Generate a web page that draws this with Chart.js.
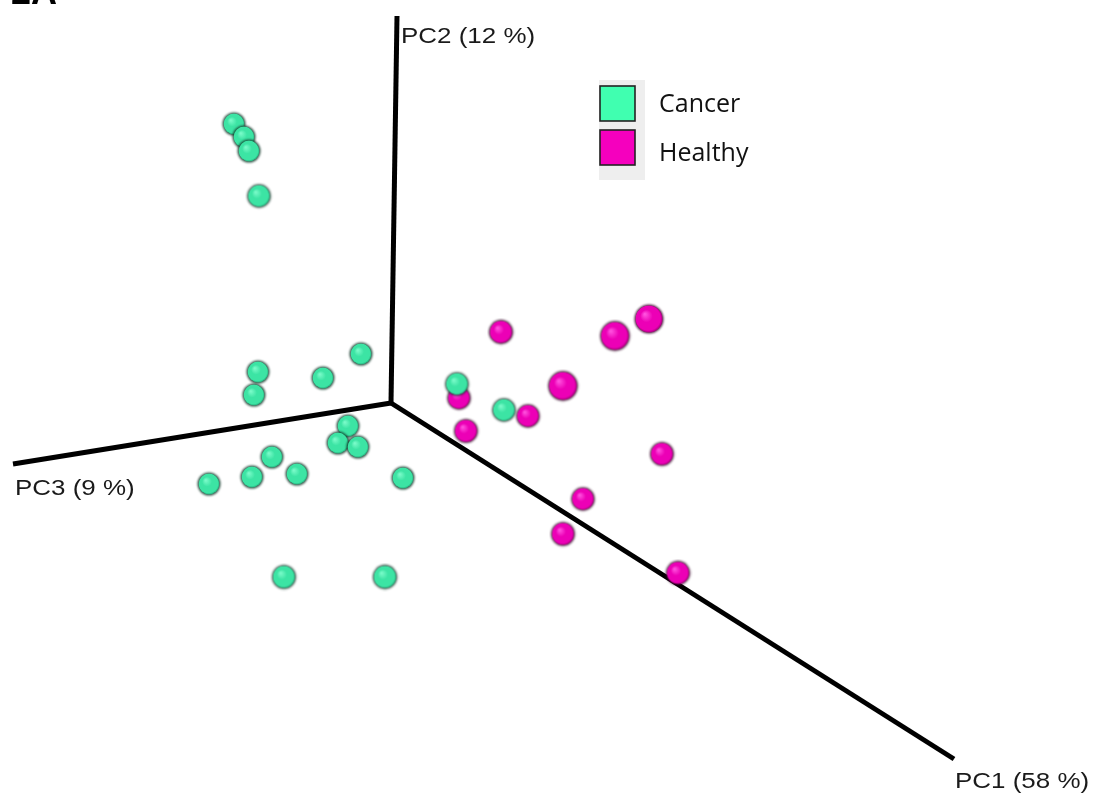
<!DOCTYPE html>
<html>
<head>
<meta charset="utf-8">
<script src="https://cdn.jsdelivr.net/npm/chart.js@4.4.1/dist/chart.umd.min.js"></script>
<style>
  html, body { margin: 0; padding: 0; background: #ffffff; }
  #wrap { width: 1094px; height: 801px; position: relative; }
</style>
</head>
<body>
<div id="wrap"><canvas id="pca" width="1094" height="801"></canvas></div>
<script>
// Projected PCA scores (view-plane coordinates) and depth toward the viewer
const cancerX = [234, 244, 249, 259, 361, 258, 254, 323, 457, 504, 348, 338, 358, 272, 252, 297, 209, 403, 284, 385];
const cancerY = [124, 137, 151, 196, 354, 372, 395, 378, 384, 410, 426, 443, 447, 457, 477, 474, 484, 478, 577, 577];
const cancerDepth = [0, 0, 0, 0.1, 0, 0, 0, 0, 0.1, 0.1, 0, 0, 0, 0, 0, 0, 0, 0, 0.15, 0.2];

const healthyX = [501, 615, 649, 563, 459, 528, 466, 662, 583, 563, 678];
const healthyY = [332, 336, 319, 386, 398, 416, 431, 454, 499, 534, 573];
const healthyDepth = [0.2, 1.0, 0.9, 1.0, 0.1, 0.1, 0.15, 0.15, 0.1, 0.15, 0.2];

// Principal component axes: shared origin and projected end points
const axisNames = ['PC1 (58 %)', 'PC2 (12 %)', 'PC3 (9 %)'];
const axisOrigin = { x: 391, y: 403 };
const axisEndX = [954, 397, 13];
const axisEndY = [759, 16, 464];

const groupNames = ['Cancer', 'Healthy'];

// ---- sphere sprites -------------------------------------------------------
const sphereCache = {};
function sphereSprite(r, tone) {
  const key = tone + ':' + r.toFixed(1);
  if (sphereCache[key]) return sphereCache[key];
  const pad = 3;
  const size = Math.ceil(2 * r + 2 * pad);
  const c = document.createElement('canvas');
  c.width = size; c.height = size;
  const g = c.getContext('2d');
  const cx = size / 2, cy = size / 2;
  const pal = tone === 'cancer'
    ? { hi: 'rgb(120,250,200)', mid: 'rgb(60,228,164)', lo: 'rgb(25,150,105)', rim: 'rgba(15,55,40,0.85)' }
    : { hi: 'rgb(255,80,222)', mid: 'rgb(236,0,182)', lo: 'rgb(140,0,100)', rim: 'rgba(55,0,40,0.85)' };
  // soft dark rim
  g.beginPath();
  g.arc(cx, cy, r + 0.7, 0, Math.PI * 2);
  g.fillStyle = pal.rim;
  g.filter = 'blur(0.8px)';
  g.fill();
  g.filter = 'none';
  const grad = g.createRadialGradient(cx - r * 0.3, cy - r * 0.35, r * 0.05, cx, cy, r * 1.05);
  grad.addColorStop(0, pal.hi);
  grad.addColorStop(0.4, pal.mid);
  grad.addColorStop(0.82, pal.mid);
  grad.addColorStop(1, pal.lo);
  g.beginPath();
  g.arc(cx, cy, r - 0.4, 0, Math.PI * 2);
  g.fillStyle = grad;
  g.fill();
  sphereCache[key] = c;
  return c;
}

const radiusOf = d => 10.8 + 3.4 * d;

function pts(xs, ys) { return xs.map((x, i) => ({ x: x, y: ys[i] })); }

const axisDatasets = axisNames.map((name, i) => ({
  type: 'line',
  label: name,
  data: [{ x: axisOrigin.x, y: axisOrigin.y }, { x: axisEndX[i], y: axisEndY[i] }],
  borderColor: '#000000',
  borderWidth: 5,
  pointRadius: 0,
  fill: false,
  order: 10
}));

// ---- text overlays: axis titles, panel tag, legend -----------------------
const overlayPlugin = {
  id: 'overlay',
  afterDatasetsDraw(chart) {
    const ctx = chart.ctx;
    const sx = chart.scales.x, sy = chart.scales.y;
    ctx.save();
    // axis titles, placed just beyond each axis end
    const offs = [[1, 29], [4, 27], [2, 31]];
    ctx.fillStyle = '#1a1a1a';
    ctx.textBaseline = 'alphabetic';
    ctx.font = '22px "Liberation Sans", Arial, sans-serif';
    axisNames.forEach((name, i) => {
      const px = sx.getPixelForValue(axisEndX[i]) + offs[i][0];
      const py = sy.getPixelForValue(axisEndY[i]) + offs[i][1];
      ctx.save();
      ctx.translate(px, py);
      ctx.scale(1.18, 1);
      ctx.fillText(name, 0, 0);
      ctx.restore();
    });
    // panel tag, mostly above the top edge
    ctx.fillStyle = '#000000';
    ctx.font = 'bold 36px "Liberation Sans", Arial, sans-serif';
    ctx.fillText('2A', 11, 4);

    // legend
    const lx = 599, ly = 80;
    ctx.fillStyle = '#eeeeee';
    ctx.fillRect(lx, ly, 46, 100);
    const sw = [['rgb(64,255,176)', 86], ['rgb(245,0,190)', 130]];
    sw.forEach(([col, top]) => {
      ctx.fillStyle = col;
      ctx.fillRect(lx + 1, top, 35, 35);
      ctx.strokeStyle = '#222222';
      ctx.lineWidth = 1.6;
      ctx.strokeRect(lx + 1, top, 35, 35);
    });
    ctx.fillStyle = '#111111';
    ctx.font = '25px "Open Sans", sans-serif';
    ctx.fillText(groupNames[0], 659, 112);
    ctx.fillText(groupNames[1], 659, 161);
    ctx.restore();
  }
};

new Chart(document.getElementById('pca'), {
  type: 'scatter',
  data: {
    datasets: [
      ...axisDatasets,
      {
        label: groupNames[1],
        data: pts(healthyX, healthyY),
        pointStyle: ctx => sphereSprite(radiusOf(healthyDepth[ctx.dataIndex] || 0), 'healthy'),
        order: 2
      },
      {
        label: groupNames[0],
        data: pts(cancerX, cancerY),
        pointStyle: ctx => sphereSprite(radiusOf(cancerDepth[ctx.dataIndex] || 0), 'cancer'),
        order: 1
      }
    ]
  },
  options: {
    responsive: false,
    animation: false,
    devicePixelRatio: 1,
    layout: { padding: 0, autoPadding: false },
    plugins: { legend: { display: false }, tooltip: { enabled: false } },
    scales: {
      x: { type: 'linear', min: 0, max: 1094, display: false },
      y: { type: 'linear', min: 0, max: 801, reverse: true, display: false }
    }
  },
  plugins: [overlayPlugin]
});
</script>
</body>
</html>
